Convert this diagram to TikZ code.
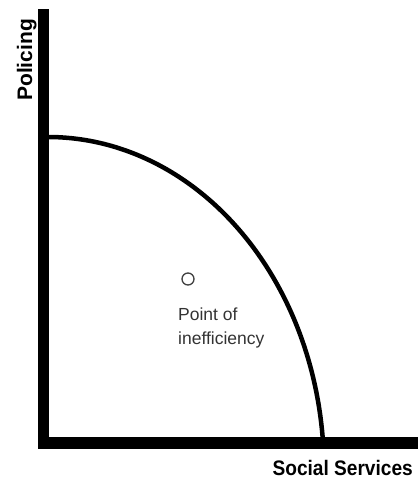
\documentclass[tikz,border=0pt]{standalone}
\usepackage{fontspec}
\setmainfont{Liberation Sans}
\begin{document}
\begin{tikzpicture}[x=1pt,y=-1pt,
  axis/.style={line width=11.5pt},
  ppf/.style={line width=4.5pt, line join=round},
  axislabel/.style={font=\bfseries\fontsize{21}{24}\selectfont, inner sep=0pt},
  ptlabel/.style={font=\fontsize{17.5}{24}\selectfont, text=black!80, inner sep=0pt, align=left},
  ptmark/.style={draw=black!75, line width=1.3pt, fill=white}]
\useasboundingbox (0,0) rectangle (418,479);
\coordinate (top) at (43.5,9);
\coordinate (origin) at (43.5,443);
\coordinate (right) at (418,443);
\draw[ppf] plot[domain=90:4, samples=80, smooth] ({48+276*cos(\x)},{470-333*sin(\x)});
\draw[axis] (top) -- (43.5,449);
\draw[axis] (38,443) -- (right);
\node[ptmark, circle, minimum size=12pt, inner sep=0pt] (pt) at (188,279) {};
\node[ptlabel, anchor=base west] (lab1) at (178,320) {Point of};
\node[ptlabel, anchor=base west] (lab2) at (178,344) {inefficiency};
\node[axislabel, anchor=base east, xscale=0.91] (xl) at (413,475) {Social Services};
\node[axislabel, rotate=90, anchor=base] (yl) at (32,60) {Policing};
\end{tikzpicture}
\end{document}
